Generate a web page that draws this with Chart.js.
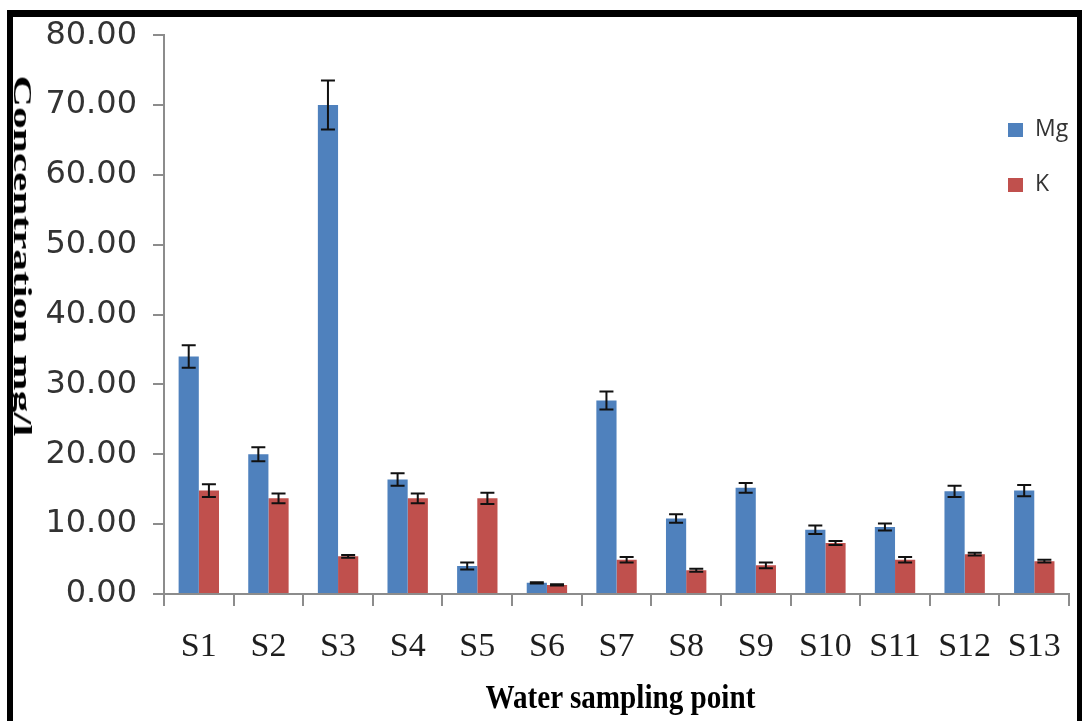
<!DOCTYPE html>
<html>
<head>
<meta charset="utf-8">
<script src="https://cdn.jsdelivr.net/npm/chart.js@4.4.1/dist/chart.umd.min.js"></script>
<style>
    html, body { margin: 0; padding: 0; background: #fff; overflow: hidden; }
    #lienzo { position: absolute; left: 0; top: 0; width: 1082px; height: 721px; }
    #marco {
        position: absolute; left: 7px; top: 10px; width: 1076px; height: 760px;
        box-sizing: border-box; border: 6px solid #000; border-top-width: 7px;
        pointer-events: none; z-index: 5;
    }
    .titulo { position: absolute; white-space: nowrap; font-family: "Liberation Serif", "Times New Roman", serif;
        font-weight: bold; color: #000; line-height: 1; }
    #leyenda { position: absolute; left: 1008px; top: 119px; font-family: "Open Sans", "Liberation Sans", sans-serif;
        font-size: 23px; color: #333; }
    #leyenda div { height: 55px; line-height: 16px; white-space: nowrap; }
    #leyenda span.caja { display: inline-block; width: 15px; height: 14px; margin-right: 12px; vertical-align: -1px; }
</style>
</head>
<body>
<canvas id="lienzo" width="1082" height="721"></canvas>
<div id="tituloY" class="titulo">Concentration mg/l</div>
<div id="tituloX" class="titulo">Water sampling point</div>
<div id="leyenda"></div>
<div id="marco"></div>
<script>
'use strict';

// puntos de muestreo
var categorias = ['S1', 'S2', 'S3', 'S4', 'S5', 'S6', 'S7', 'S8', 'S9', 'S10', 'S11', 'S12', 'S13'];

// concentraciones (mg/l) y su error
var valoresMg = [34.0, 20.0, 70.0, 16.4, 4.0, 1.6, 27.7, 10.8, 15.2, 9.2, 9.6, 14.7, 14.8];
var erroresMg = [1.6, 1.0, 3.5, 0.9, 0.5, 0.1, 1.3, 0.6, 0.7, 0.6, 0.5, 0.8, 0.8];
var valoresK = [14.8, 13.7, 5.4, 13.7, 13.7, 1.3, 4.9, 3.4, 4.1, 7.3, 4.9, 5.7, 4.7];
var erroresK = [0.9, 0.7, 0.2, 0.7, 0.8, 0.1, 0.4, 0.2, 0.4, 0.3, 0.4, 0.2, 0.2];

// marcas del eje y
var marcasY = [0, 10, 20, 30, 40, 50, 60, 70, 80];

var colorMg = '#4f81bd';
var colorK = '#c0504d';

// dibuja las barras de error encima de cada barra
var barrasError = {
    id: 'barrasError',
    afterDatasetsDraw: function(chart) {
        var ctx = chart.ctx;
        var escalaY = chart.scales.y;
        ctx.save();
        ctx.strokeStyle = '#111';
        ctx.lineWidth = 2;
        chart.data.datasets.forEach(function(ds, i) {
            var meta = chart.getDatasetMeta(i);
            meta.data.forEach(function(barra, j) {
                var v = ds.data[j], e = ds.errores[j];
                var arriba = escalaY.getPixelForValue(v + e);
                var abajo = escalaY.getPixelForValue(v - e);
                var x = barra.x, m = 7;
                ctx.beginPath();
                ctx.moveTo(x, arriba); ctx.lineTo(x, abajo);
                ctx.moveTo(x - m, arriba); ctx.lineTo(x + m, arriba);
                ctx.moveTo(x - m, abajo); ctx.lineTo(x + m, abajo);
                ctx.stroke();
            });
        });
        ctx.restore();
    }
};

var grafico = new Chart(document.getElementById('lienzo').getContext('2d'), {
    type: 'bar',
    data: {
        labels: categorias,
        datasets: [
            { label: 'Mg', data: valoresMg, errores: erroresMg, backgroundColor: colorMg },
            { label: 'K', data: valoresK, errores: erroresK, backgroundColor: colorK }
        ]
    },
    options: {
        responsive: false,
        animation: false,
        layout: { padding: { top: 32, right: 7, left: 0, bottom: 0 } },
        datasets: { bar: { categoryPercentage: 0.58, barPercentage: 1.0, borderWidth: 0 } },
        plugins: { legend: { display: false }, tooltip: { enabled: false } },
        scales: {
            x: {
                grid: { drawOnChartArea: false, drawTicks: true, tickLength: 12, color: '#8c8c8c', lineWidth: 2 },
                border: { color: '#8c8c8c', width: 2 },
                ticks: { color: '#1e1e1e', padding: 21, maxRotation: 0,
                    font: { family: '"Liberation Serif", "Times New Roman", serif', size: 34 } },
                afterFit: function(s) { s.height = 721 - 594; }
            },
            y: {
                min: 0, max: 80,
                afterBuildTicks: function(s) { s.ticks = marcasY.map(function(v) { return { value: v }; }); },
                grid: { drawOnChartArea: false, drawTicks: true, tickLength: 11, color: '#8c8c8c', lineWidth: 2 },
                border: { color: '#8c8c8c', width: 2 },
                ticks: { color: '#333', padding: 16,
                    font: { family: '"DejaVu Sans", Verdana, sans-serif', size: 32 },
                    callback: function(v) { return Number(v).toFixed(2); } },
                afterFit: function(s) { s.width = 164; }
            }
        }
    },
    plugins: [barrasError]
});

// leyenda
var leyenda = document.getElementById('leyenda');
grafico.data.datasets.forEach(function(ds) {
    leyenda.innerHTML += '<div><span class="caja" style="background:' + ds.backgroundColor + '"></span>' + ds.label + '</div>';
});

// titulos de los ejes, estirados como en la imagen original
function colocarTitulo(id, tam, largo, cx, cy, girar) {
    var el = document.getElementById(id);
    el.style.fontSize = tam + 'px';
    var escala = largo / el.offsetWidth;
    el.style.left = (cx - el.offsetWidth / 2) + 'px';
    el.style.top = (cy - el.offsetHeight / 2) + 'px';
    el.style.transform = (girar ? 'rotate(90deg) ' : '') + 'scaleX(' + escala + ')';
}
colocarTitulo('tituloY', 26, 361, 22, 256, true);
colocarTitulo('tituloX', 34, 270, 620, 697, false);
</script>
</body>
</html>
